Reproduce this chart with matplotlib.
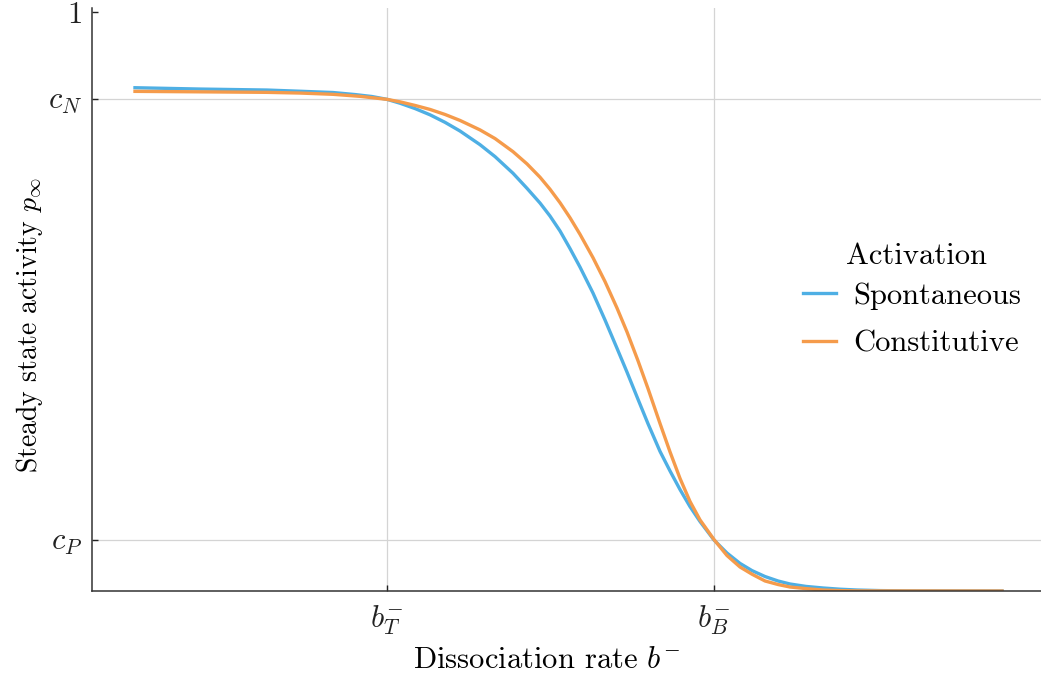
import matplotlib
matplotlib.use("Agg")
import matplotlib.pyplot as plt

plt.rcParams['font.family'] = 'serif'
plt.rcParams['font.serif'] = ['cmr10']
plt.rcParams['mathtext.fontset'] = 'cm'
plt.rcParams['axes.unicode_minus'] = False
plt.rcParams['axes.formatter.use_mathtext'] = True

# dissociation rate (normalised axis units) and steady state activity
x_spont = [0.0453, 0.1138, 0.1844, 0.2192, 0.2540, 0.2771, 0.2950, 0.3109, 0.3246, 0.3404,
           0.3562, 0.3720, 0.3878, 0.4088, 0.4247, 0.4436, 0.4584, 0.4721, 0.4826, 0.4932,
           0.5037, 0.5142, 0.5279, 0.5406, 0.5532, 0.5638, 0.5753, 0.5859, 0.5985, 0.6091,
           0.6196, 0.6301, 0.6407, 0.6554, 0.6691, 0.6828, 0.6955, 0.7092, 0.7229, 0.7355,
           0.7524, 0.7703, 0.7882, 0.8061, 0.8303, 0.8588, 0.9589]
p_spont = [0.8693, 0.8670, 0.8653, 0.8632, 0.8610, 0.8575, 0.8541, 0.8492, 0.8425, 0.8333,
           0.8225, 0.8095, 0.7945, 0.7710, 0.7503, 0.7216, 0.6955, 0.6701, 0.6477, 0.6218,
           0.5915, 0.5596, 0.5147, 0.4680, 0.4193, 0.3779, 0.3313, 0.2889, 0.2413, 0.2073,
           0.1753, 0.1459, 0.1200, 0.0881, 0.0656, 0.0477, 0.0352, 0.0250, 0.0173, 0.0121,
           0.0079, 0.0052, 0.0031, 0.0017, 0.0007, 0.0002, 0.0]

x_const = [0.0453, 0.1138, 0.1844, 0.2192, 0.2540, 0.2824, 0.3109, 0.3246, 0.3404, 0.3562,
           0.3720, 0.3878, 0.4088, 0.4247, 0.4436, 0.4584, 0.4721, 0.4826, 0.4932, 0.5037,
           0.5142, 0.5279, 0.5406, 0.5532, 0.5638, 0.5753, 0.5859, 0.5985, 0.6091, 0.6196,
           0.6301, 0.6407, 0.6554, 0.6691, 0.6828, 0.6955, 0.7092, 0.7229, 0.7355, 0.7524,
           0.7703, 0.7882, 0.8061, 0.9589]
p_const = [0.8630, 0.8622, 0.8613, 0.8601, 0.8579, 0.8544, 0.8492, 0.8449, 0.8387, 0.8318,
           0.8231, 0.8128, 0.7965, 0.7815, 0.7589, 0.7377, 0.7147, 0.6940, 0.6706, 0.6447,
           0.6162, 0.5758, 0.5344, 0.4888, 0.4473, 0.3979, 0.3496, 0.2895, 0.2402, 0.1945,
           0.1548, 0.1228, 0.0889, 0.0613, 0.0415, 0.0290, 0.0173, 0.0112, 0.0069, 0.0041,
           0.0017, 0.0007, 0.0002, 0.0]

x_ticks = [0.311, 0.655]
x_ticklabels = [r'$b^{-}_{T}$', r'$b^{-}_{B}$']
y_ticks = [0.088, 0.85, 1.0]
y_ticklabels = [r'$c_P$', r'$c_N$', '1']

blue = '#4eafe4'
orange = '#f59b4b'

fig = plt.figure(figsize=(10.41, 6.73), dpi=100)
ax = fig.add_axes([92/1041, 82/673, 949/1041, 583/673])

# grid only at the labelled ticks (none at 1)
for xv in x_ticks:
    ax.axvline(xv, color='#d4d4d4', lw=0.9, zorder=0)
for yv in y_ticks[:2]:
    ax.axhline(yv, color='#d4d4d4', lw=0.9, zorder=0)

ax.plot(x_spont, p_spont, color=blue, lw=2.4, label='Spontaneous')
ax.plot(x_const, p_const, color=orange, lw=2.4, label='Constitutive')

ax.set_xlim(0, 1)
ax.set_ylim(0, 1.007)
ax.set_xticks(x_ticks)
ax.set_xticklabels(x_ticklabels)
ax.set_yticks(y_ticks)
ax.set_yticklabels(y_ticklabels)
ax.tick_params(direction='in', length=4, width=1, labelsize=22, colors='#222222', pad=7)
ax.tick_params(axis='x', pad=9)

for s in ['top', 'right']:
    ax.spines[s].set_visible(False)
for s in ['left', 'bottom']:
    ax.spines[s].set_color('#333333')
    ax.spines[s].set_linewidth(1.1)
    ax.spines[s].set_zorder(3)

ax.set_xlabel(r'Dissociation rate $b^{-}$', fontsize=22)
ax.xaxis.set_label_coords(0.479, -0.095)
ax.set_ylabel(r'Steady state activity $p_\infty$', fontsize=20)
ax.yaxis.set_label_coords(-0.049, 0.456)

# legend title drawn separately so its gap can differ from the row spacing
fig.text(916/1041, 1 - 256/673, 'Activation', ha='center', va='center', fontsize=22)
leg = ax.legend(loc='upper left', bbox_to_anchor=(0.771, 0.580),
                bbox_transform=fig.transFigure, frameon=False, fontsize=22,
                handlelength=1.1, handletextpad=0.55,
                labelspacing=0.65, borderpad=0, borderaxespad=0)

fig.savefig('out.png', dpi=100)
